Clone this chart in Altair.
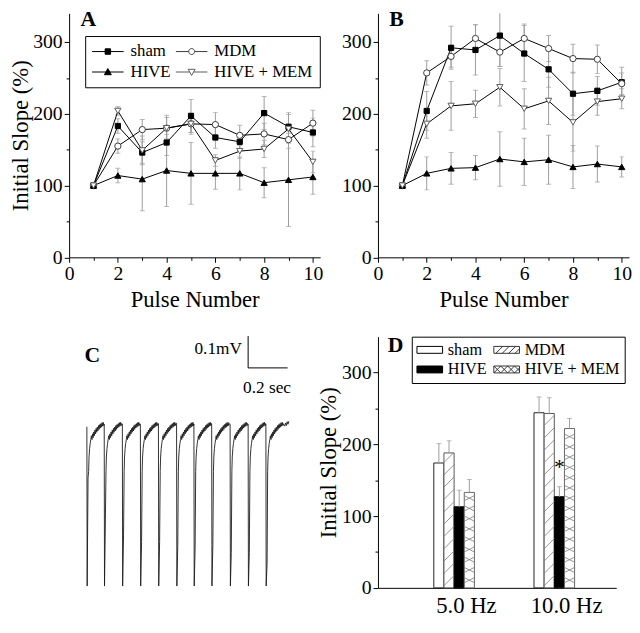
import altair as alt
import pandas as pd

FONT = "Liberation Serif"
ERR = "#9c9c9c"

series = ["sham", "MDM", "HIVE", "HIVE + MEM"]
pulses = [1, 2, 3, 4, 5, 6, 7, 8, 9, 10]

# ---------------- Panel A (5 Hz) ----------------
a_sham = [100, 183, 146, 160, 197, 167, 161, 201, 182, 174]
a_mdm = [100, 155, 178, 180, 186, 185, 170, 172, 164, 187]
a_hive = [100, 114, 109, 121, 117, 117, 117, 104, 108, 112]
a_mem = [100, 204, 149, 180, 186, 135, 148, 151, 179, 133]
a_sham_err = [0, 10, 15, 18, 23, 15, 12, 23, 20, 20]
a_mdm_err = [0, 10, 14, 18, 15, 17, 14, 15, 12, 18]
a_hive_err = [0, 10, 44, 50, 43, 22, 23, 21, 65, 24]
a_mem_err = [0, 6, 20, 15, 12, 8, 10, 12, 20, 15]

# ---------------- Panel B (10 Hz) ----------------
b_sham = [100, 204, 292, 289, 309, 284, 262, 228, 232, 244]
b_mdm = [100, 257, 280, 305, 286, 305, 291, 277, 276, 242]
b_hive = [100, 117, 124, 125, 137, 133, 136, 126, 130, 126]
b_mem = [100, 186, 211, 214, 237, 207, 218, 188, 217, 221]
b_sham_err = [0, 27, 30, 35, 43, 39, 25, 30, 20, 21]
b_mdm_err = [0, 17, 15, 19, 20, 20, 18, 20, 20, 15]
b_hive_err = [0, 23, 22, 17, 38, 33, 34, 30, 25, 14]
b_mem_err = [0, 20, 34, 19, 26, 28, 33, 40, 19, 14]

# ---------------- Panel C (trace) ----------------
c_pulse_t = [0.090, 0.178, 0.270, 0.3615, 0.453, 0.545, 0.633, 0.723, 0.8165, 0.908, 0.998]
c_peak = [0.0, 0.008, 0.009, 0.008, 0.010, 0.011, 0.009, 0.010, 0.008, 0.009, 0.008]
c_trough = [-0.16, -0.29, -0.34, -0.36, -0.36, -0.375, -0.38, -0.37, -0.395, -0.395, -0.43]
c_artifact_mv = -0.50
c_rec_ms = [9, 11, 14, 17, 20, 23, 26, 29, 32, 35, 38, 41, 44, 47, 50, 53, 56, 59, 62, 65,
            68, 71, 74, 77, 80, 83, 86, 88]
c_rec_mv = [-0.14, -0.095, -0.068, -0.052, -0.040, -0.028, -0.040, -0.022, -0.034, -0.016,
            -0.028, -0.010, -0.022, -0.005, -0.017, -0.001, -0.013, 0.004, -0.008, 0.007,
            -0.004, 0.010, -0.001, 0.013, 0.002, 0.014, 0.004, 0.010]
c_tail_ms = [95, 100, 104, 108, 112, 117]
c_tail_mv = [0.002, 0.012, 0.004, 0.016, 0.008, 0.018]
c_scalebar = {"t": 0.908, "v": 0.185, "dt": 0.2, "dv": 0.1}

# ---------------- Panel D (bars, pulse 10) ----------------
d_freqs = ["5.0 Hz", "10.0 Hz"]
d_vals = {"sham": [174, 244], "MDM": [188, 243], "HIVE": [113, 127], "HIVE + MEM": [133, 222]}
d_errs = {"sham": [27, 22], "MDM": [17, 22], "HIVE": [23, 14], "HIVE + MEM": [18, 14]}
d_star = {"freq": "10.0 Hz", "series": "HIVE", "y": 177}

# ---------------- styling ----------------
marker_shape = {"sham": "square", "MDM": "circle", "HIVE": "triangle-up", "HIVE + MEM": "triangle-down"}
marker_fill = {"sham": "black", "MDM": "white", "HIVE": "black", "HIVE + MEM": "white"}
marker_stroke = {"sham": "black", "MDM": "#3c3c3c", "HIVE": "black", "HIVE + MEM": "#5a5a5a"}
marker_size = {"sham": 28, "MDM": 40, "HIVE": 40, "HIVE + MEM": 40}

LEG_A_PATHS = [
    "M-1.7,0H4.7M0.95,-0.55H2.05V0.55H0.95Z",
    "M-1.7,0H0.9M2.1,0H4.7M0.9,0A0.6,0.6,0,1,0,2.1,0A0.6,0.6,0,1,0,0.9,0Z",
    "M-1.7,0H4.7M0.8,0.55L2.2,0.55L1.5,-0.7Z",
    "M-1.7,0H1.11M1.89,0H4.7M0.8,-0.55L2.2,-0.55L1.5,0.7Z",
]
LEG_D_PATHS = [
    "M-1.6,-0.7H3.6V0.7H-1.6Z",
    "M-1.6,-0.7H3.6V0.7H-1.6ZM-1.2,0.7L0.2,-0.7M0.1,0.7L1.5,-0.7M1.4,0.7L2.8,-0.7M2.7,0.7L3.6,-0.2",
    "M-1.6,-0.7H3.6V0.7H-1.6Z",
    "M-1.6,-0.7H3.6V0.7H-1.6ZM-1.6,0.7L-0.2,-0.7L1.2,0.7L2.6,-0.7L3.6,0.3M-1.6,-0.7L-0.2,0.7L1.2,-0.7L2.6,0.7L3.6,-0.3",
]

CW, CH = 254.7, 247.5
XS = alt.Scale(domain=[0, 10.3], nice=False, zero=False)
YS = alt.Scale(domain=[0, 340], nice=False, zero=False)

AX_FONT = dict(labelFont=FONT, titleFont=FONT, labelColor="black", titleColor="black",
               titleFontWeight="normal")
TICK_FS = 20


def curve_df(vals, errs):
    rows = []
    for s in series:
        for p, v, e in zip(pulses, vals[s], errs[s]):
            rows.append(dict(pulse=p, series=s, value=v, lo=v - e, hi=v + e,
                             shape=marker_shape[s], fill=marker_fill[s],
                             stroke=marker_stroke[s], size=marker_size[s]))
    return pd.DataFrame(rows)


def letter_layer(letter, x, y):
    return alt.Chart(pd.DataFrame({"t": [letter]})).mark_text(
        font=FONT, fontSize=22, fontWeight="bold", align="left", baseline="alphabetic", color="black"
    ).encode(text="t:N", x=alt.value(x), y=alt.value(y))


def curve_panel(df, letter, with_title, with_legend):
    base = alt.Chart(df)
    yk = dict(orient="left", values=[0, 100, 200, 300], tickSize=5, labelFontSize=TICK_FS,
              labelPadding=2, labelFlush=False, **AX_FONT)
    if with_title:
        yk.update(title="Initial Slope (%)", titleFontSize=23, titlePadding=0)
    else:
        yk.update(title=None)
    ax_y = alt.Axis(**yk)
    ax_x = alt.Axis(orient="bottom", values=[0, 2, 4, 6, 8, 10], format="d", tickSize=5,
                    labelFontSize=TICK_FS, labelPadding=2, labelFlush=False,
                    title="Pulse Number", titleFontSize=23, titlePadding=5, **AX_FONT)
    mx = alt.Axis(orient="bottom", values=[1, 3, 5, 7, 9], tickSize=3, labels=False, domain=False, title=None)
    my = alt.Axis(orient="left", values=[50, 150, 250], tickSize=3, labels=False, domain=False, title=None)

    eb = base.transform_filter("datum.hi > datum.lo")
    err = eb.mark_rule(color=ERR, strokeWidth=1, clip=True).encode(
        x=alt.X("pulse:Q", scale=XS, axis=mx), y=alt.Y("lo:Q", scale=YS, axis=my), y2="hi:Q")
    cap_lo = eb.mark_tick(color=ERR, orient="horizontal", size=5, thickness=1, clip=True).encode(
        x=alt.X("pulse:Q", scale=XS, axis=None), y=alt.Y("lo:Q", scale=YS, axis=None))
    cap_hi = eb.mark_tick(color=ERR, orient="horizontal", size=5, thickness=1, clip=True).encode(
        x=alt.X("pulse:Q", scale=XS, axis=None), y=alt.Y("hi:Q", scale=YS, axis=None))
    line = base.mark_line(color="black", strokeWidth=1).encode(
        x=alt.X("pulse:Q", scale=XS, axis=None), y=alt.Y("value:Q", scale=YS, axis=None),
        detail="series:N", order="pulse:Q")
    pts = base.mark_point(filled=True, opacity=1, strokeWidth=1).encode(
        x=alt.X("pulse:Q", scale=XS, axis=ax_x), y=alt.Y("value:Q", scale=YS, axis=ax_y),
        shape=alt.Shape("shape:N", scale=None), fill=alt.Fill("fill:N", scale=None),
        stroke=alt.Stroke("stroke:N", scale=None), size=alt.Size("size:Q", scale=None))
    layers = [err, cap_lo, cap_hi, line, pts, letter_layer(letter, 11.5, 13)]
    if with_legend:
        leg = alt.Legend(title=None, orient="none", legendX=16.3, legendY=23, direction="horizontal",
                         columns=2, strokeColor="black", fillColor="white", padding=7,
                         labelFont=FONT, labelFontSize=17, labelColor="black", labelOffset=22,
                         symbolSize=100, symbolStrokeWidth=1, rowPadding=3, columnPadding=3,
                         symbolOpacity=1)
        lg = base.transform_filter("datum.pulse < 0").mark_point(filled=True, opacity=1, strokeWidth=1, size=100).encode(
            x=alt.X("pulse:Q", scale=XS, axis=None), y=alt.Y("value:Q", scale=YS, axis=None),
            shape=alt.Shape("series:N", scale=alt.Scale(domain=series, range=LEG_A_PATHS), legend=leg),
            fill=alt.Fill("series:N", scale=alt.Scale(domain=series, range=["black", "white", "black", "white"]), legend=leg),
            stroke=alt.Stroke("series:N", scale=alt.Scale(domain=series, range=["black", "#3c3c3c", "black", "#5a5a5a"]), legend=leg))
        layers.append(lg)
    return alt.layer(*layers).resolve_axis(x="independent", y="independent").properties(width=CW, height=CH)


dfA = curve_df({"sham": a_sham, "MDM": a_mdm, "HIVE": a_hive, "HIVE + MEM": a_mem},
               {"sham": a_sham_err, "MDM": a_mdm_err, "HIVE": a_hive_err, "HIVE + MEM": a_mem_err})
dfB = curve_df({"sham": b_sham, "MDM": b_mdm, "HIVE": b_hive, "HIVE + MEM": b_mem},
               {"sham": b_sham_err, "MDM": b_mdm_err, "HIVE": b_hive_err, "HIVE + MEM": b_mem_err})

panelA = curve_panel(dfA, "A", True, True)
panelB = curve_panel(dfB, "B", False, False)

# ---------------- Panel C ----------------
trace = []
for k, t0 in enumerate(c_pulse_t):
    nxt = c_pulse_t[k + 1] if k + 1 < len(c_pulse_t) else None
    trace.append((t0, c_peak[k]))
    trace.append((t0 + 0.0015, c_artifact_mv))
    trace.append((t0 + 0.006, c_trough[k]))
    for ms, mv in zip(c_rec_ms, c_rec_mv):
        t = t0 + ms / 1000
        if nxt is None or t < nxt - 0.001:
            trace.append((t, mv))
    if nxt is None:
        for ms, mv in zip(c_tail_ms, c_tail_mv):
            trace.append((t0 + ms / 1000, mv))
dfC = pd.DataFrame(trace, columns=["t", "v"])
dfC["i"] = range(len(dfC))

CX = alt.Scale(domain=[0, 1.2], nice=False, zero=False)
CY = alt.Scale(domain=[-0.528, 0.283], nice=False, zero=False)
sb = c_scalebar
dfSB = pd.DataFrame({"t": [sb["t"], sb["t"]], "t2": [sb["t"], sb["t"] + sb["dt"]],
                     "v": [sb["v"], sb["v"]], "v2": [sb["v"] + sb["dv"], sb["v"]]})
dfSBT = pd.DataFrame({"t": [sb["t"] - 0.0315, sb["t"] + 0.096],
                      "v": [sb["v"] + 0.06, sb["v"] - 0.064],
                      "label": ["0.1mV", "0.2 sec"], "align": ["right", "center"]})

c_line = alt.Chart(dfC).mark_line(color="#1a1a1a", strokeWidth=0.9).encode(
    x=alt.X("t:Q", scale=CX, axis=None), y=alt.Y("v:Q", scale=CY, axis=None), order="i:Q")
c_sb = alt.Chart(dfSB).mark_rule(color="black", strokeWidth=1).encode(
    x=alt.X("t:Q", scale=CX, axis=None), x2="t2:Q", y=alt.Y("v:Q", scale=CY, axis=None), y2="v2:Q")
c_txt_r = alt.Chart(dfSBT).transform_filter("datum.align == 'right'").mark_text(
    font=FONT, fontSize=17.5, align="right", baseline="middle", color="black").encode(
    x=alt.X("t:Q", scale=CX, axis=None), y=alt.Y("v:Q", scale=CY, axis=None), text="label:N")
c_txt_c = alt.Chart(dfSBT).transform_filter("datum.align == 'center'").mark_text(
    font=FONT, fontSize=17.5, align="center", baseline="middle", color="black").encode(
    x=alt.X("t:Q", scale=CX, axis=None), y=alt.Y("v:Q", scale=CY, axis=None), text="label:N")
panelC = alt.layer(c_line, c_sb, c_txt_r, c_txt_c, letter_layer("C", 15.6, 25.2)).properties(width=240, height=262)

# ---------------- Panel D ----------------
DW, DH = 241.7, 254.8
GROUP_STEP = 9.87
d_fill = {"sham": "white", "MDM": "white", "HIVE": "black", "HIVE + MEM": "white"}
d_stroke = {"sham": "#222222", "MDM": "#555555", "HIVE": "black", "HIVE + MEM": "#666666"}
rows = []
for g, f in enumerate(d_freqs):
    for si, s in enumerate(series):
        pos = g * GROUP_STEP + si
        v = d_vals[s][g]
        rows.append(dict(freq=f, series=s, x0=pos, x1=pos + 1, xc=pos + 0.5, value=v,
                         top=v + d_errs[s][g], zero=0, fill=d_fill[s], stroke=d_stroke[s]))
dfD = pd.DataFrame(rows)

upx = DH / 350.0  # pixels per data unit


def hatch(pos, top, rise, gap, up):
    segs = []
    y0 = -rise
    while y0 < top:
        if up:
            tl = max(0.0, -y0 / rise)
            th = min(1.0, (top - y0) / rise)
            yf = lambda t: y0 + rise * t
        else:
            tl = max(0.0, 1 - (top - y0) / rise)
            th = min(1.0, 1 + y0 / rise)
            yf = lambda t: y0 + rise * (1 - t)
        if th > tl:
            segs.append(dict(hx0=pos + tl, hx1=pos + th, hy0=yf(tl), hy1=yf(th)))
        y0 += gap
    return segs


hrows = []
for r in rows:
    if r["series"] == "MDM":
        hrows += hatch(r["x0"], r["value"], 10.3 / upx, 12.5 / upx, True)
    if r["series"] == "HIVE + MEM":
        hrows += hatch(r["x0"], r["value"], 5.2 / upx, 10.4 / upx, True)
        hrows += hatch(r["x0"], r["value"], 5.2 / upx, 10.4 / upx, False)
dfH = pd.DataFrame(hrows)

star_row = dfD[(dfD.freq == d_star["freq"]) & (dfD.series == d_star["series"])].iloc[0]
dfStar = pd.DataFrame({"xc": [star_row.xc], "y": [d_star["y"]], "s": ["*"]})

DX = alt.Scale(domain=[-5.5, 17.97], nice=False, zero=False)
DY = alt.Scale(domain=[0, 350], nice=False, zero=False)
centers = [g * GROUP_STEP + 2 for g in range(len(d_freqs))]
d_ax_x = alt.Axis(orient="bottom", values=centers, ticks=False, labelFontSize=23, labelPadding=7,
                  labelOffset=12, labelFlush=False, title=None, **AX_FONT,
                  labelExpr="datum.value < %f ? '%s' : '%s'" % ((centers[0] + centers[1]) / 2, d_freqs[0], d_freqs[1]))
d_ax_y = alt.Axis(orient="left", values=[0, 100, 200, 300], tickSize=5, labelFontSize=TICK_FS, labelPadding=2,
                  labelFlush=False, title="Initial Slope (%)", titleFontSize=23, titlePadding=1, **AX_FONT)
d_my = alt.Axis(orient="left", values=[50, 150, 250], tickSize=3, labels=False, domain=False, title=None)

bars = alt.Chart(dfD).mark_rect(strokeWidth=1).encode(
    x=alt.X("x0:Q", scale=DX, axis=d_ax_x), x2="x1:Q",
    y=alt.Y("value:Q", scale=DY, axis=d_ax_y), y2="zero:Q",
    fill=alt.Fill("fill:N", scale=None), stroke=alt.Stroke("stroke:N", scale=None))
hat = alt.Chart(dfH).mark_rule(color="#7a7a7a", strokeWidth=0.8).encode(
    x=alt.X("hx0:Q", scale=DX, axis=None), x2="hx1:Q",
    y=alt.Y("hy0:Q", scale=DY, axis=d_my), y2="hy1:Q")
d_err = alt.Chart(dfD).mark_rule(color=ERR, strokeWidth=1).encode(
    x=alt.X("xc:Q", scale=DX, axis=None), y=alt.Y("value:Q", scale=DY, axis=None), y2="top:Q")
d_cap = alt.Chart(dfD).mark_tick(color=ERR, orient="horizontal", size=5, thickness=1).encode(
    x=alt.X("xc:Q", scale=DX, axis=None), y=alt.Y("top:Q", scale=DY, axis=None))
d_star_l = alt.Chart(dfStar).mark_text(font=FONT, fontSize=22, baseline="middle", dy=6, color="black").encode(
    x=alt.X("xc:Q", scale=DX, axis=None), y=alt.Y("y:Q", scale=DY, axis=None), text="s:N")
legD = alt.Legend(title=None, orient="none", legendX=34.3, legendY=0, direction="horizontal",
                  columns=2, strokeColor="black", fillColor="white", padding=5,
                  labelFont=FONT, labelFontSize=16.5, labelColor="black", labelOffset=15,
                  symbolSize=100, symbolStrokeWidth=1, rowPadding=3, columnPadding=5, symbolOpacity=1)
d_leg = alt.Chart(dfD).transform_filter("datum.value < 0").mark_point(filled=True, opacity=1, strokeWidth=1, size=100).encode(
    x=alt.X("xc:Q", scale=DX, axis=None), y=alt.Y("value:Q", scale=DY, axis=None),
    shape=alt.Shape("series:N", scale=alt.Scale(domain=series, range=LEG_D_PATHS), legend=legD),
    fill=alt.Fill("series:N", scale=alt.Scale(domain=series, range=["white", "white", "black", "white"]), legend=legD),
    stroke=alt.Stroke("series:N", scale=alt.Scale(domain=series, range=["black", "#333333", "black", "#333333"]), legend=legD))
panelD = alt.layer(bars, hat, d_err, d_cap, d_star_l, d_leg, letter_layer("D", 10, 16)).resolve_axis(
    x="independent", y="independent").properties(width=DW, height=DH)

chart = alt.concat(panelA, panelB, panelC, panelD, columns=2,
                   spacing={"row": 80, "column": 58.3}, bounds="flush").resolve_scale(
    shape="independent", fill="independent", stroke="independent"
).properties(
    padding={"left": 2, "top": -4, "right": 0, "bottom": 0}
).configure_view(stroke=None).configure_axis(
    labelFont=FONT, titleFont=FONT, labelColor="black", titleColor="black", domainColor="black",
    tickColor="black", domainWidth=1, tickWidth=1, titleFontWeight="normal", grid=False
).configure_legend(labelFont=FONT)

chart.save("out.html", embed_options={"renderer": "svg", "actions": False})
